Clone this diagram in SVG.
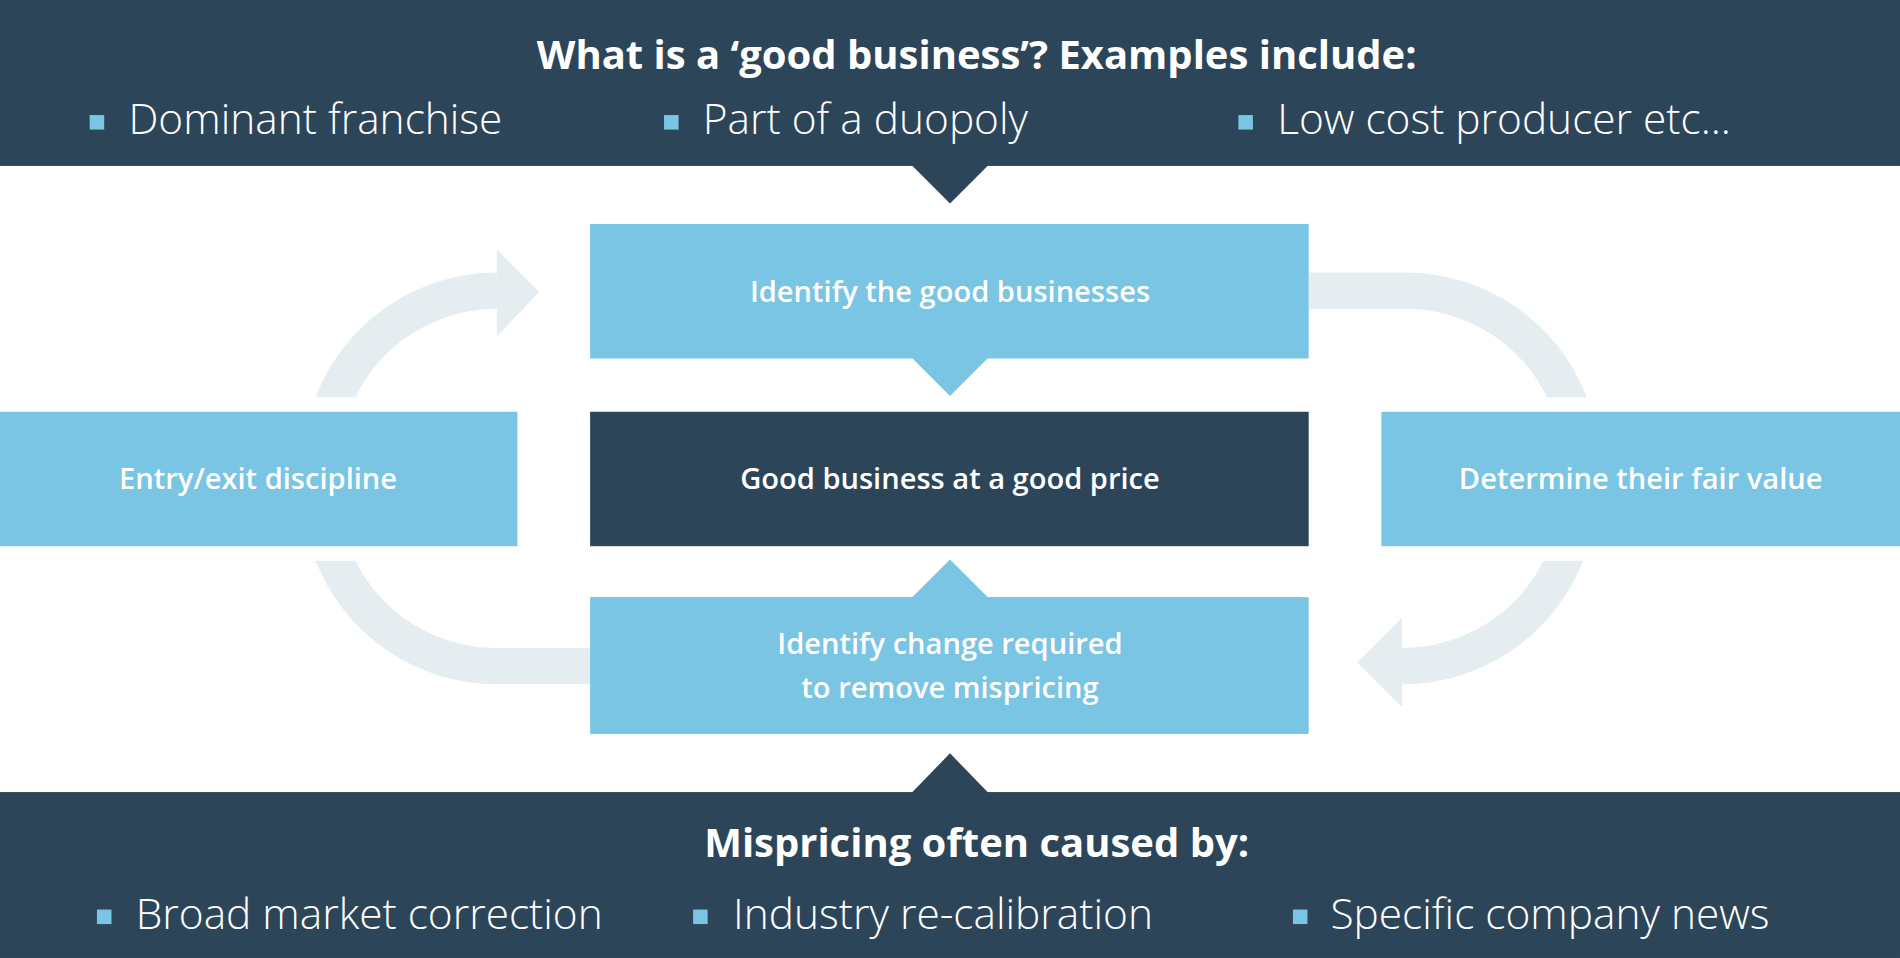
<svg xmlns="http://www.w3.org/2000/svg" width="1900" height="958" viewBox="0 0 1900 958">
<style>
.dark{fill:#2d4559}.light{fill:#7ac4e4}.arc{fill:#e6edf1}
.t{font-family:"Open Sans","Liberation Sans",sans-serif;fill:#fff}
.h{font-weight:700;font-size:33px;text-anchor:middle}
.b{font-weight:300;font-size:35px}
.n{font-weight:600;font-size:24px;text-anchor:middle}
</style>
<rect width="1900" height="958" fill="#fff"/>
<g transform="scale(1.21173 1.2111)">
<g id="connectors">
<path class="arc" d="M260.5,328 A160,160 0 0 1 410,225 L410,255 A130,130 0 0 0 293.2,328 Z"/>
<polygon class="arc" points="410,206 445,241 410,278"/>
<path class="arc" d="M1080,225 L1160,225 A160,160 0 0 1 1309.5,328 L1276.8,328 A130,130 0 0 0 1160,255 L1080,255 Z"/>
<path class="arc" d="M1306.5,463 A160,160 0 0 1 1157,565 L1157,535 A130,130 0 0 0 1273.8,463 Z"/>
<polygon class="arc" points="1157,510 1120,547 1157,584"/>
<path class="arc" d="M260.5,463 A160,160 0 0 0 410,565 L487,565 L487,535 L410,535 A130,130 0 0 1 293.2,463 Z"/>
</g>
<g id="top">
<rect class="dark" x="0" y="0" width="1568" height="137"/>
<polygon class="dark" points="752,136 816,136 784,168"/>
<text class="t h" x="806" y="57">What is a ‘good business’? Examples include:</text>
<rect class="light" x="74" y="95" width="12" height="12"/><text class="t b" x="106" y="111">Dominant franchise</text>
<rect class="light" x="548" y="95" width="12" height="12"/><text class="t b" x="580" y="111">Part of a duopoly</text>
<rect class="light" x="1022" y="95" width="12" height="12"/><text class="t b" x="1054" y="111">Low cost producer etc...</text>
</g>
<g id="identify">
<rect class="light" x="487" y="185" width="593" height="111"/>
<polygon class="light" points="752,295 816,295 784,327"/>
<text class="t n" x="784" y="249">Identify the good businesses</text>
</g>
<g id="center">
<rect class="dark" x="487" y="340" width="593" height="111"/>
<text class="t n" x="784" y="404">Good business at a good price</text>
</g>
<g id="entry">
<rect class="light" x="0" y="340" width="427" height="111"/>
<text class="t n" x="213" y="404">Entry/exit discipline</text>
</g>
<g id="fair">
<rect class="light" x="1140" y="340" width="428" height="111"/>
<text class="t n" x="1354" y="404">Determine their fair value</text>
</g>
<g id="change">
<rect class="light" x="487" y="493" width="593" height="113"/>
<polygon class="light" points="752,494 816,494 784,462"/>
<text class="t n" x="784" y="540">Identify change required</text>
<text class="t n" x="784" y="576">to remove mispricing</text>
</g>
<g id="bottom">
<rect class="dark" x="0" y="654" width="1568" height="137"/>
<polygon class="dark" points="752,655 816,655 784,622"/>
<text class="t h" x="806" y="708">Mispricing often caused by:</text>
<rect class="light" x="80" y="751" width="12" height="12"/><text class="t b" x="112" y="767">Broad market correction</text>
<rect class="light" x="572" y="751" width="12" height="12"/><text class="t b" x="605" y="767">Industry re-calibration</text>
<rect class="light" x="1067" y="751" width="12" height="12"/><text class="t b" x="1098" y="767">Specific company news</text>
</g>
</g>
</svg>
